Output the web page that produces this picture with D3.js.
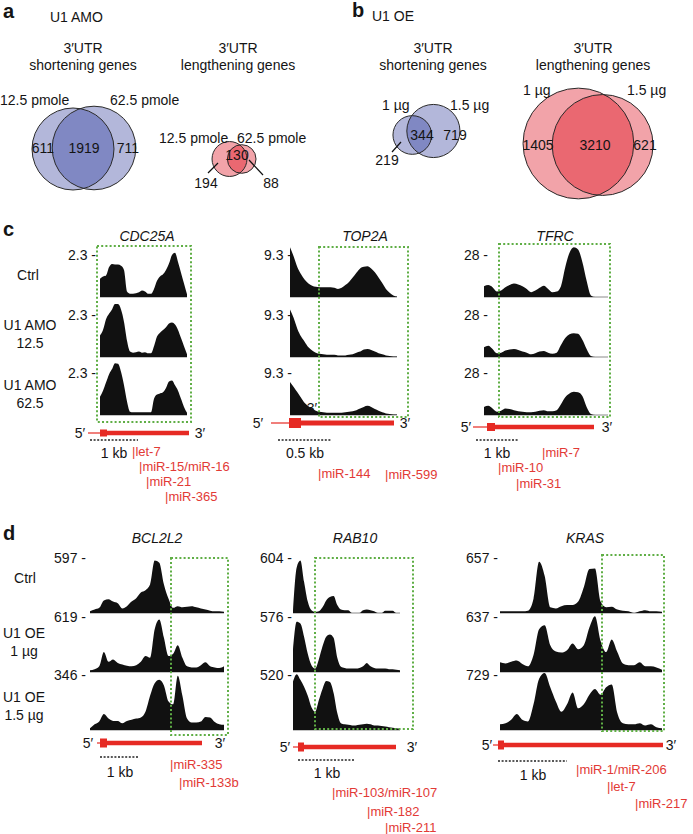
<!DOCTYPE html>
<html><head><meta charset="utf-8">
<script src="https://cdn.jsdelivr.net/npm/d3@7"></script>
<style>
body{margin:0;background:#fff}
svg{display:block}
text{font-family:"Liberation Sans",Arial,Helvetica,sans-serif;font-size:14px;fill:#141414}
</style>
</head><body>
<svg id="fig" width="693" height="834"></svg>
<script>
// ---------------- DATA ----------------
// Venn counts: [left only, overlap, right only]
const vennAShort = [611, 1919, 711];
const vennALong  = [194, 130, 88];
const vennBShort = [219, 344, 719];
const vennBLong  = [1405, 3210, 621];
const setNamesA = ["12.5 pmole", "62.5 pmole"];
const setNamesB = ["1 µg", "1.5 µg"];

// Coverage tracks (relative read coverage, % of track height), evenly spaced along the 3'UTR region
const genesC = ["CDC25A", "TOP2A", "TFRC"];
const rowsC = ["Ctrl", "U1 AMO|12.5", "U1 AMO|62.5"];
const ticksC = { CDC25A: ["2.3", "2.3", "2.3"], TOP2A: ["9.3", "9.3", "9.3"], TFRC: ["28", "28", "28"] };
const covCDC25A = [
  [34,38,40,55,61,60,60,58,50,10,6,6,7,9,12,10,6,6,15,30,38,42,50,62,78,82,65,45,25,5],
  [40,50,70,80,88,98,98,88,65,30,10,8,9,10,8,9,7,7,20,38,45,50,55,62,64,60,50,35,20,5],
  [34,45,60,75,85,96,95,80,55,25,6,5,5,5,5,5,5,5,30,38,40,42,50,62,64,55,45,30,15,4]
];
const covTOP2A = [
  [92,75,55,42,32,25,21,19,18,18,18,18,17,15,17,22,28,36,45,53,56,57,53,46,36,26,15,8,3,1],
  [88,72,52,38,28,18,12,8,6,5,4,4,4,3,3,3,4,5,8,10,14,15,13,10,7,5,3,2,1,1],
  [61,52,42,32,22,16,12,8,6,5,4,4,4,4,4,5,6,7,9,12,15,17,15,11,8,5,3,2,1,1]
];
const covTFRC = [
  [20,22,18,10,12,18,22,25,23,20,15,9,12,17,21,15,9,10,20,55,82,92,88,65,30,3,0,0,0,0],
  [18,21,15,7,8,12,14,15,13,10,8,5,7,10,11,8,6,8,22,35,42,44,43,32,15,2,0,0,0,0],
  [15,17,12,6,8,12,11,9,7,6,5,5,6,8,9,7,7,9,20,33,40,43,42,35,15,2,0,0,0,0]
];

const genesD = ["BCL2L2", "RAB10", "KRAS"];
const rowsD = ["Ctrl", "U1 OE|1 µg", "U1 OE|1.5 µg"];
const ticksD = { BCL2L2: ["597", "619", "346"], RAB10: ["604", "576", "520"], KRAS: ["657", "637", "729"] };
const covBCL2L2 = [
  [3,6,9,22,24,20,17,8,12,20,26,36,40,50,92,88,50,25,9,12,10,11,12,10,8,6,4,3,3,2],
  [3,5,10,35,18,22,16,13,11,10,12,18,28,25,75,92,60,28,32,47,25,10,8,8,12,17,10,8,7,10],
  [3,10,15,28,20,16,16,12,16,18,20,22,32,60,82,88,78,50,45,95,60,20,13,13,15,23,22,14,10,9]
];
const covRAB10 = [
  [5,80,92,55,20,5,2,3,10,22,28,30,14,6,5,5,0,0,0,5,6,5,3,0,0,4,4,4,0,0],
  [40,88,85,62,32,12,6,22,45,62,66,60,25,9,7,6,6,6,7,10,16,10,7,6,6,6,5,5,4,3],
  [85,98,88,76,60,40,32,52,72,86,84,65,30,12,10,9,8,8,9,10,11,10,8,8,7,6,5,4,3,2]
];
const covKRAS = [
  [3,3,3,3,3,4,25,90,65,10,8,12,14,14,20,45,77,78,20,10,11,6,4,3,0,3,5,3,3,2],
  [17,15,18,20,14,10,30,75,82,47,36,34,38,50,40,47,78,98,55,35,57,35,15,12,12,17,10,10,8,4],
  [10,12,18,28,18,15,45,90,100,75,50,32,45,66,38,45,62,72,62,75,80,30,12,10,10,12,8,10,5,3]
];

// miRNA sites (labels)
const mirCDC25A = ["let-7", "miR-15/miR-16", "miR-21", "miR-365"];
const mirTOP2A  = ["miR-144", "miR-599"];
const mirTFRC   = ["miR-7", "miR-10", "miR-31"];
const mirBCL2L2 = ["miR-335", "miR-133b"];
const mirRAB10  = ["miR-103/miR-107", "miR-182", "miR-211"];
const mirKRAS   = ["miR-1/miR-206", "let-7", "miR-217"];
const scaleBarLabels = { CDC25A: "1 kb", TOP2A: "0.5 kb", TFRC: "1 kb", BCL2L2: "1 kb", RAB10: "1 kb", KRAS: "1 kb" };

// ---------------- LAYOUT ----------------
const svg = d3.select("#fig");
const RED = "#e62a24", RED_TXT = "#e23a36", GREEN = "#5fae45";
const BLUE_S = "#b3b7da", BLUE_O = "#8088c3", PINK_S = "#f2a3a9", PINK_O = "#ea6871";

function txt(x, y, s, o = {}) {
  const t = svg.append("text").attr("x", x).attr("y", y).attr("dy", "0.35em")
    .attr("text-anchor", o.anchor || "start").text(s);
  if (o.size) t.style("font-size", o.size + "px");
  if (o.weight) t.style("font-weight", o.weight);
  if (o.italic) t.style("font-style", "italic");
  if (o.fill) t.style("fill", o.fill);
  return t;
}

// Panel letters & headers
txt(3, 11, "a", { size: 20, weight: "bold" });
txt(50, 17, "U1 AMO");
txt(352, 10, "b", { size: 20, weight: "bold" });
txt(372, 16, "U1 OE");
[[83, "shortening genes"], [238, "lengthening genes"], [433, "shortening genes"], [593, "lengthening genes"]].forEach(([x, s]) => {
  txt(x, 48, "3′UTR", { anchor: "middle" });
  txt(x, 65, s, { anchor: "middle" });
});

// Venn diagrams
let clipId = 0;
function venn(counts, k, c1, c2, colS, colO) {
  const total = d3.max([counts[0] + counts[1], counts[1] + counts[2]]);
  const r = d3.scaleSqrt().domain([0, total]).range([0, k * Math.sqrt(total)]);
  const r1 = r(counts[0] + counts[1]), r2 = r(counts[1] + counts[2]);
  const g = svg.append("g");
  const id = "vc" + (clipId++);
  g.append("clipPath").attr("id", id).append("circle").attr("cx", c1[0]).attr("cy", c1[1]).attr("r", r1);
  g.append("circle").attr("cx", c1[0]).attr("cy", c1[1]).attr("r", r1).attr("fill", colS);
  g.append("circle").attr("cx", c2[0]).attr("cy", c2[1]).attr("r", r2).attr("fill", colS);
  g.append("circle").attr("cx", c2[0]).attr("cy", c2[1]).attr("r", r2).attr("fill", colO).attr("clip-path", `url(#${id})`);
  [[c1, r1], [c2, r2]].forEach(([c, rr]) => g.append("circle").attr("cx", c[0]).attr("cy", c[1]).attr("r", rr)
    .attr("fill", "none").attr("stroke", "#2a2a2a").attr("stroke-width", 1));
}
function leader(x1, y1, x2, y2) {
  svg.append("line").attr("x1", x1).attr("y1", y1).attr("x2", x2).attr("y2", y2).attr("stroke", "#111").attr("stroke-width", 1.2);
}

// a: shortening
venn(vennAShort, 0.815, [73, 149], [94, 148], BLUE_S, BLUE_O);
txt(0, 100, setNamesA[0]);
txt(110, 100, setNamesA[1]);
txt(43, 148, vennAShort[0], { anchor: "middle" });
txt(84, 148, vennAShort[1], { anchor: "middle" });
txt(128, 148, vennAShort[2], { anchor: "middle" });
// a: lengthening
venn(vennALong, 0.97, [229.5, 159], [241.7, 159], PINK_S, PINK_O);
txt(159, 138, setNamesA[0]);
txt(237, 138, setNamesA[1]);
txt(237, 155, vennALong[1], { anchor: "middle" });
txt(206, 183, vennALong[0], { anchor: "middle" });
txt(271, 183, vennALong[2], { anchor: "middle" });
leader(208, 173, 218, 163);
leader(263, 175, 249, 160);
// b: shortening
venn(vennBShort, 0.815, [412.3, 135], [433.4, 131], BLUE_S, BLUE_O);
txt(382, 105, setNamesB[0]);
txt(450, 105, setNamesB[1]);
txt(422, 135, vennBShort[1], { anchor: "middle" });
txt(455, 135, vennBShort[2], { anchor: "middle" });
txt(387, 160, vennBShort[0], { anchor: "middle" });
leader(392, 152, 401, 142);
// b: lengthening
venn(vennBLong, 0.815, [578.4, 143.5], [602.6, 145], PINK_S, PINK_O);
txt(523, 90, setNamesB[0]);
txt(627, 90, setNamesB[1]);
txt(538, 145, vennBLong[0], { anchor: "middle" });
txt(595, 145, vennBLong[1], { anchor: "middle" });
txt(645, 145, vennBLong[2], { anchor: "middle" });

// ---------------- Coverage panels ----------------
function trackPanel(cfg) {
  const { genes, rows, ticks, covs, layout, baselines, H, labelOff, rowLabelY, titleY } = cfg;
  rows.forEach((r, i) => {
    const parts = r.split("|");
    parts.forEach((p, j) => txt(rowLabelY[i][0], rowLabelY[i][1] + j * 18, p, { anchor: "middle" }));
  });
  genes.forEach((gname, gi) => {
    const L = layout[gname];
    txt(L.titleX, titleY, gname, { anchor: "middle", italic: true });
    covs[gi].forEach((vals, ri) => {
      const b = baselines[ri];
      const x = d3.scaleLinear().domain([0, vals.length - 1]).range([L.x0, L.x1]);
      const y = d3.scaleLinear().domain([0, 100]).range([b, b - H]);
      svg.append("line").attr("x1", L.x0).attr("x2", L.x1).attr("y1", b).attr("y2", b)
        .attr("stroke", "#8a8a8a").attr("stroke-width", 1);
      const area = d3.area().x((d, i) => x(i)).y0(b).y1(d => y(d)).curve(d3.curveMonotoneX);
      svg.append("path").datum(vals).attr("d", area).attr("fill", "#111");
      txt(L.tickX, y(100) + labelOff, ticks[gname][ri] + " -", { anchor: "end" });
    });
    const bx = L.box;
    svg.append("rect").attr("x", bx[0]).attr("y", bx[1]).attr("width", bx[2] - bx[0]).attr("height", bx[3] - bx[1])
      .attr("fill", "none").attr("stroke", GREEN).attr("stroke-width", 2).attr("stroke-dasharray", "2,2.2");
    const gm = L.gm;
    svg.append("line").attr("x1", gm.thin[0]).attr("x2", gm.thin[1]).attr("y1", gm.y).attr("y2", gm.y).attr("stroke", RED).attr("stroke-width", 1.2);
    svg.append("rect").attr("x", gm.box[0]).attr("width", gm.box[1] - gm.box[0]).attr("y", gm.y - gm.bh / 2).attr("height", gm.bh).attr("fill", RED);
    svg.append("rect").attr("x", gm.box[1]).attr("width", gm.thick - gm.box[1]).attr("y", gm.y - gm.th / 2).attr("height", gm.th).attr("fill", RED);
    txt(gm.p5, gm.y, "5′", { anchor: "middle" });
    txt(gm.p3, gm.y, "3′", { anchor: "middle" });
    svg.append("line").attr("x1", gm.bar[0]).attr("x2", gm.bar[1]).attr("y1", gm.bar[2]).attr("y2", gm.bar[2])
      .attr("stroke", "#222").attr("stroke-width", 1.3).attr("stroke-dasharray", "2,1.6");
    txt(gm.kb[0], gm.kb[1], scaleBarLabels[gname], { anchor: "middle" });
    L.mirs.forEach((m, k) => txt(L.mirPos[k][0], L.mirPos[k][1], "|" + m, { fill: RED_TXT, size: 13 }));
  });
}

txt(3, 229, "c", { size: 20, weight: "bold" });
trackPanel({
  genes: genesC, rows: rowsC, ticks: ticksC, covs: [covCDC25A, covTOP2A, covTFRC],
  baselines: [297, 357, 415], H: 54, labelOff: 12, titleY: 236,
  rowLabelY: [[28, 275], [30, 325], [30, 385]],
  layout: {
    CDC25A: { x0: 100, x1: 187, tickX: 96, titleX: 147, box: [97, 246, 191, 422],
      gm: { y: 433, thin: [88, 100], box: [100, 107], thick: 189, bh: 7, th: 4.5, p5: 80, p3: 200, bar: [90, 138, 440], kb: [114, 453] },
      mirs: mirCDC25A, mirPos: [[132, 451], [139, 466], [146, 481], [165, 496]] },
    TOP2A: { x0: 290, x1: 397, tickX: 292, titleX: 365, box: [319, 247, 408, 417],
      gm: { y: 423, thin: [271, 289], box: [289, 301], thick: 394, bh: 10, th: 5, p5: 258, p3: 405, bar: [278, 331, 440], kb: [305, 453] },
      mirs: mirTOP2A, mirPos: [[318, 473], [385, 474]] },
    TFRC: { x0: 484, x1: 608, tickX: 488, titleX: 555, box: [499, 244, 610, 417],
      gm: { y: 427, thin: [473, 487], box: [487, 495], thick: 594, bh: 8, th: 4.5, p5: 466, p3: 607, bar: [476, 518, 440], kb: [497, 453] },
      mirs: mirTFRC, mirPos: [[542, 452], [498, 467], [516, 483]] }
  }
});
// stray label present in the original figure
txt(312, 408, "3′", { anchor: "middle" });

txt(3, 533, "d", { size: 20, weight: "bold" });
trackPanel({
  genes: genesD, rows: rowsD, ticks: ticksD, covs: [covBCL2L2, covRAB10, covKRAS],
  baselines: [613, 672, 730], H: 57, labelOff: 2, titleY: 538,
  rowLabelY: [[25, 578], [24, 633], [24, 697]],
  layout: {
    BCL2L2: { x0: 90, x1: 224, tickX: 86, titleX: 157, box: [171, 558, 228, 735],
      gm: { y: 743, thin: [97, 100], box: [100, 107], thick: 202, bh: 9, th: 4.5, p5: 88, p3: 220, bar: [100, 139, 757], kb: [120, 772] },
      mirs: mirBCL2L2, mirPos: [[170, 764], [179, 782]] },
    RAB10: { x0: 293, x1: 400, tickX: 292, titleX: 355, box: [315, 558, 413, 729],
      gm: { y: 747, thin: [293, 298], box: [298, 304], thick: 396, bh: 9, th: 4.5, p5: 285, p3: 412, bar: [298, 354, 760], kb: [327, 773] },
      mirs: mirRAB10, mirPos: [[332, 792], [367, 811], [385, 827]] },
    KRAS: { x0: 500, x1: 662, tickX: 498, titleX: 585, box: [602, 555, 664, 731],
      gm: { y: 745, thin: [493, 498], box: [498, 504], thick: 663, bh: 9, th: 4.5, p5: 487, p3: 671, bar: [498, 567, 761], kb: [533, 775] },
      mirs: mirKRAS, mirPos: [[576, 769], [607, 786], [635, 803]] }
  }
});
</script>
</body></html>
